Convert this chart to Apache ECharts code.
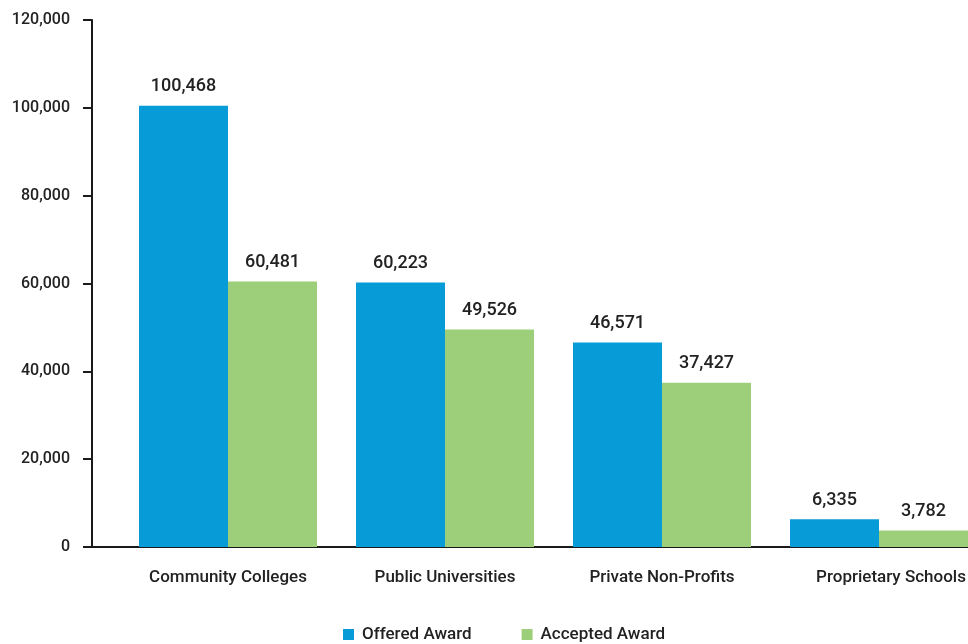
<!DOCTYPE html>
<html>
<head>
<meta charset="utf-8">
<script src="https://cdn.jsdelivr.net/npm/echarts@6/dist/echarts.min.js"></script>
<style>html,body{margin:0;padding:0;background:#fff;overflow:hidden}#c{width:988px;height:644px}</style>
</head>
<body>
<div id="c"></div>
<script>
const categories = ['Community Colleges', 'Public Universities', 'Private Non-Profits', 'Proprietary Schools'];
const offered = [100468, 60223, 46571, 6335];
const accepted = [60481, 49526, 37427, 3782];
const seriesNames = ['Offered Award', 'Accepted Award'];

const fmt = v => Number(v).toLocaleString('en-US');
const txt = '#222222';
const chart = echarts.init(document.getElementById('c'));
chart.setOption({
  animation: false,
  textStyle: { fontFamily: 'Roboto', fontWeight: 500 },
  grid: [
    { left: 119.5, right: 0.5, top: 20, bottom: 97, containLabel: false },
    { left: 92, right: 20, top: 20, bottom: 97, containLabel: false }
  ],
  legend: {
    data: seriesNames,
    left: 338, top: 621,
    icon: 'rect', itemWidth: 11, itemHeight: 11, itemGap: 50,
    textStyle: { fontSize: 17, color: txt, fontFamily: 'Roboto', fontWeight: 500, padding: [0, 0, 0, 3] }
  },
  xAxis: [
    {
      type: 'category', gridIndex: 0,
      data: categories.map((c, i) => i === 3 ? { value: c, textStyle: { padding: [0, 0, 0, 24] } } : c),
      axisLine: { show: false }, axisTick: { show: false },
      axisLabel: { fontSize: 17, color: txt, margin: 22, fontFamily: 'Roboto', fontWeight: 500 }
    },
    {
      type: 'value', gridIndex: 1, min: 0, max: 1,
      axisLine: { show: true, lineStyle: { color: '#1a1a1a', width: 2 } },
      axisTick: { show: false }, axisLabel: { show: false }, splitLine: { show: false }
    }
  ],
  yAxis: [
    {
      type: 'value', gridIndex: 0, min: 0, max: 120000, interval: 20000, offset: 27.5,
      axisLine: { show: true, lineStyle: { color: '#1a1a1a', width: 2 } },
      axisTick: { show: true, length: 9, lineStyle: { color: '#1a1a1a', width: 2 } },
      splitLine: { show: false },
      axisLabel: { fontSize: 16, color: txt, margin: 22, formatter: fmt, fontFamily: 'Roboto', fontWeight: 500 }
    },
    { type: 'value', gridIndex: 1, show: false, min: 0, max: 1 }
  ],
  series: [
    {
      name: seriesNames[0], type: 'bar', data: offered, barWidth: 89, barGap: '0%',
      itemStyle: { color: '#079BD8' },
      label: { show: true, position: 'top', distance: 10, fontSize: 18, color: txt, formatter: p => fmt(p.value), fontFamily: 'Roboto', fontWeight: 500 }
    },
    {
      name: seriesNames[1], type: 'bar', data: accepted, barWidth: 89, barGap: '0%',
      itemStyle: { color: '#9DCF7A' },
      label: { show: true, position: 'top', distance: 10, fontSize: 18, color: txt, formatter: p => fmt(p.value), fontFamily: 'Roboto', fontWeight: 500 }
    }
  ]
});
</script>
</body>
</html>
